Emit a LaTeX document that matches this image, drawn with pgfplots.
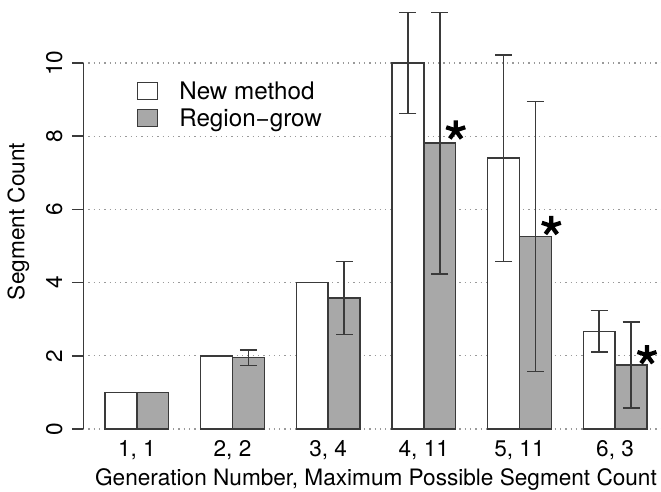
\documentclass[border=0pt]{standalone}
\usepackage{fontspec}
\setmainfont{TeX Gyre Heros}
\usepackage{pgfplots}
\usepackage{pgfplotstable}
\pgfplotsset{compat=1.18}
\definecolor{barfill}{HTML}{A8A8A8}
\definecolor{edge}{HTML}{3A3A3A}
\definecolor{gridc}{HTML}{9A9A9A}
\newcommand{\fs}{\fontsize{22.6}{26}\selectfont}
\newcommand{\fl}{\fontsize{24.2}{28}\selectfont}
\pgfplotstableread{
x y e
1.5 1 0
4.5 2 0
7.5 4 0
10.5 10.0 1.38
13.5 7.40 2.82
16.5 2.67 0.57
}\newm
\pgfplotstableread{
x y e
2.5 1 0
5.5 1.95 0.21
8.5 3.58 1.00
11.5 7.81 3.57
14.5 5.26 3.69
17.5 1.75 1.17
}\regg
\pgfplotstableread{
x y e
10.5 10.0 1.38
13.5 7.40 2.82
16.5 2.67 0.57
}\newmerr
\pgfplotstableread{
x y e
5.5 1.95 0.21
8.5 3.58 1.00
11.5 7.81 3.57
14.5 5.26 3.69
17.5 1.75 1.17
}\reggerr
\begin{document}
\begin{tikzpicture}
\useasboundingbox (0,0) rectangle (661pt,491pt);
\begin{axis}[
  at={(83pt,45.5pt)}, anchor=south west,
  scale only axis, width=578pt, height=444.7pt,
  xmin=0.31, xmax=18.44, ymin=-0.45, ymax=11.7,
  axis line style={draw=none},
  ytick={0,2,4,6,8,10},
  xtick={2,5,8,11,14,17},
  xticklabels={{1, 1},{2, 2},{3, 4},{4, 11},{5, 11},{6, 3}},
  xtick style={draw=none},
  ytick style={edge, line width=1.5pt},
  tick align=outside, major tick length=11pt,
  ytick pos=left, xtick pos=bottom,
  /pgf/number format/assume math mode=true,
  tick label style={font=\fs},
  yticklabel style={xshift=-10pt, rotate=90, anchor=base, inner sep=0pt},
  xticklabel style={anchor=base, inner sep=0pt, yshift=0.5pt},
  ymajorgrids,
  grid style={gridc, line width=1.3pt, dash pattern=on 1.3pt off 4pt},
  every axis x label/.style={at={(axis cs:9.5,-1.53)}, anchor=base, font=\fs},
  every axis y label/.style={at={(axis cs:-1.525,5.67)}, rotate=90, anchor=base, font=\fs},
  xlabel={Generation Number, Maximum Possible Segment Count},
  ylabel={Segment Count},
  legend style={at={(axis cs:1.994,9.5)}, anchor=north west, draw=none, fill=none,
    font=\fl, inner sep=0pt, row sep=8pt,
    nodes={inner sep=0pt, anchor=west},
    /tikz/every odd column/.append style={column sep=21pt}},
  legend image code/.code={\draw[#1] (0pt,-8.5pt) rectangle (20pt,8.5pt);},
]
\draw[edge, line width=1.5pt] (axis cs:0.31,0) -- (axis cs:0.31,10);
\addplot[ybar, bar width=1, bar shift=0pt, fill=white, draw=edge, line width=1.4pt] table[x=x, y=y] {\newm};
\addlegendentry{New method}
\addplot[ybar, bar width=1, bar shift=0pt, fill=barfill, draw=edge, line width=1.4pt] table[x=x, y=y] {\regg};
\addlegendentry{Region−grow}
\addplot[draw=none, mark=none, forget plot,
  error bars/.cd, y dir=both, y explicit,
  error bar style={draw=edge, line width=1.5pt},
  error mark options={rotate=90, mark size=8.5pt, draw=edge, line width=1.5pt}]
  table[x=x, y=y, y error=e] {\newmerr};
\addplot[draw=none, mark=none, forget plot,
  error bars/.cd, y dir=both, y explicit,
  error bar style={draw=edge, line width=1.5pt},
  error mark options={rotate=90, mark size=8.5pt, draw=edge, line width=1.5pt}]
  table[x=x, y=y, y error=e] {\reggerr};
\addplot[only marks, mark=star, mark size=10pt, forget plot,
  mark options={draw=black, line width=4.2pt}]
  coordinates {(12,8.16) (15,5.55) (18,2.02)};
\end{axis}
\end{tikzpicture}
\end{document}
